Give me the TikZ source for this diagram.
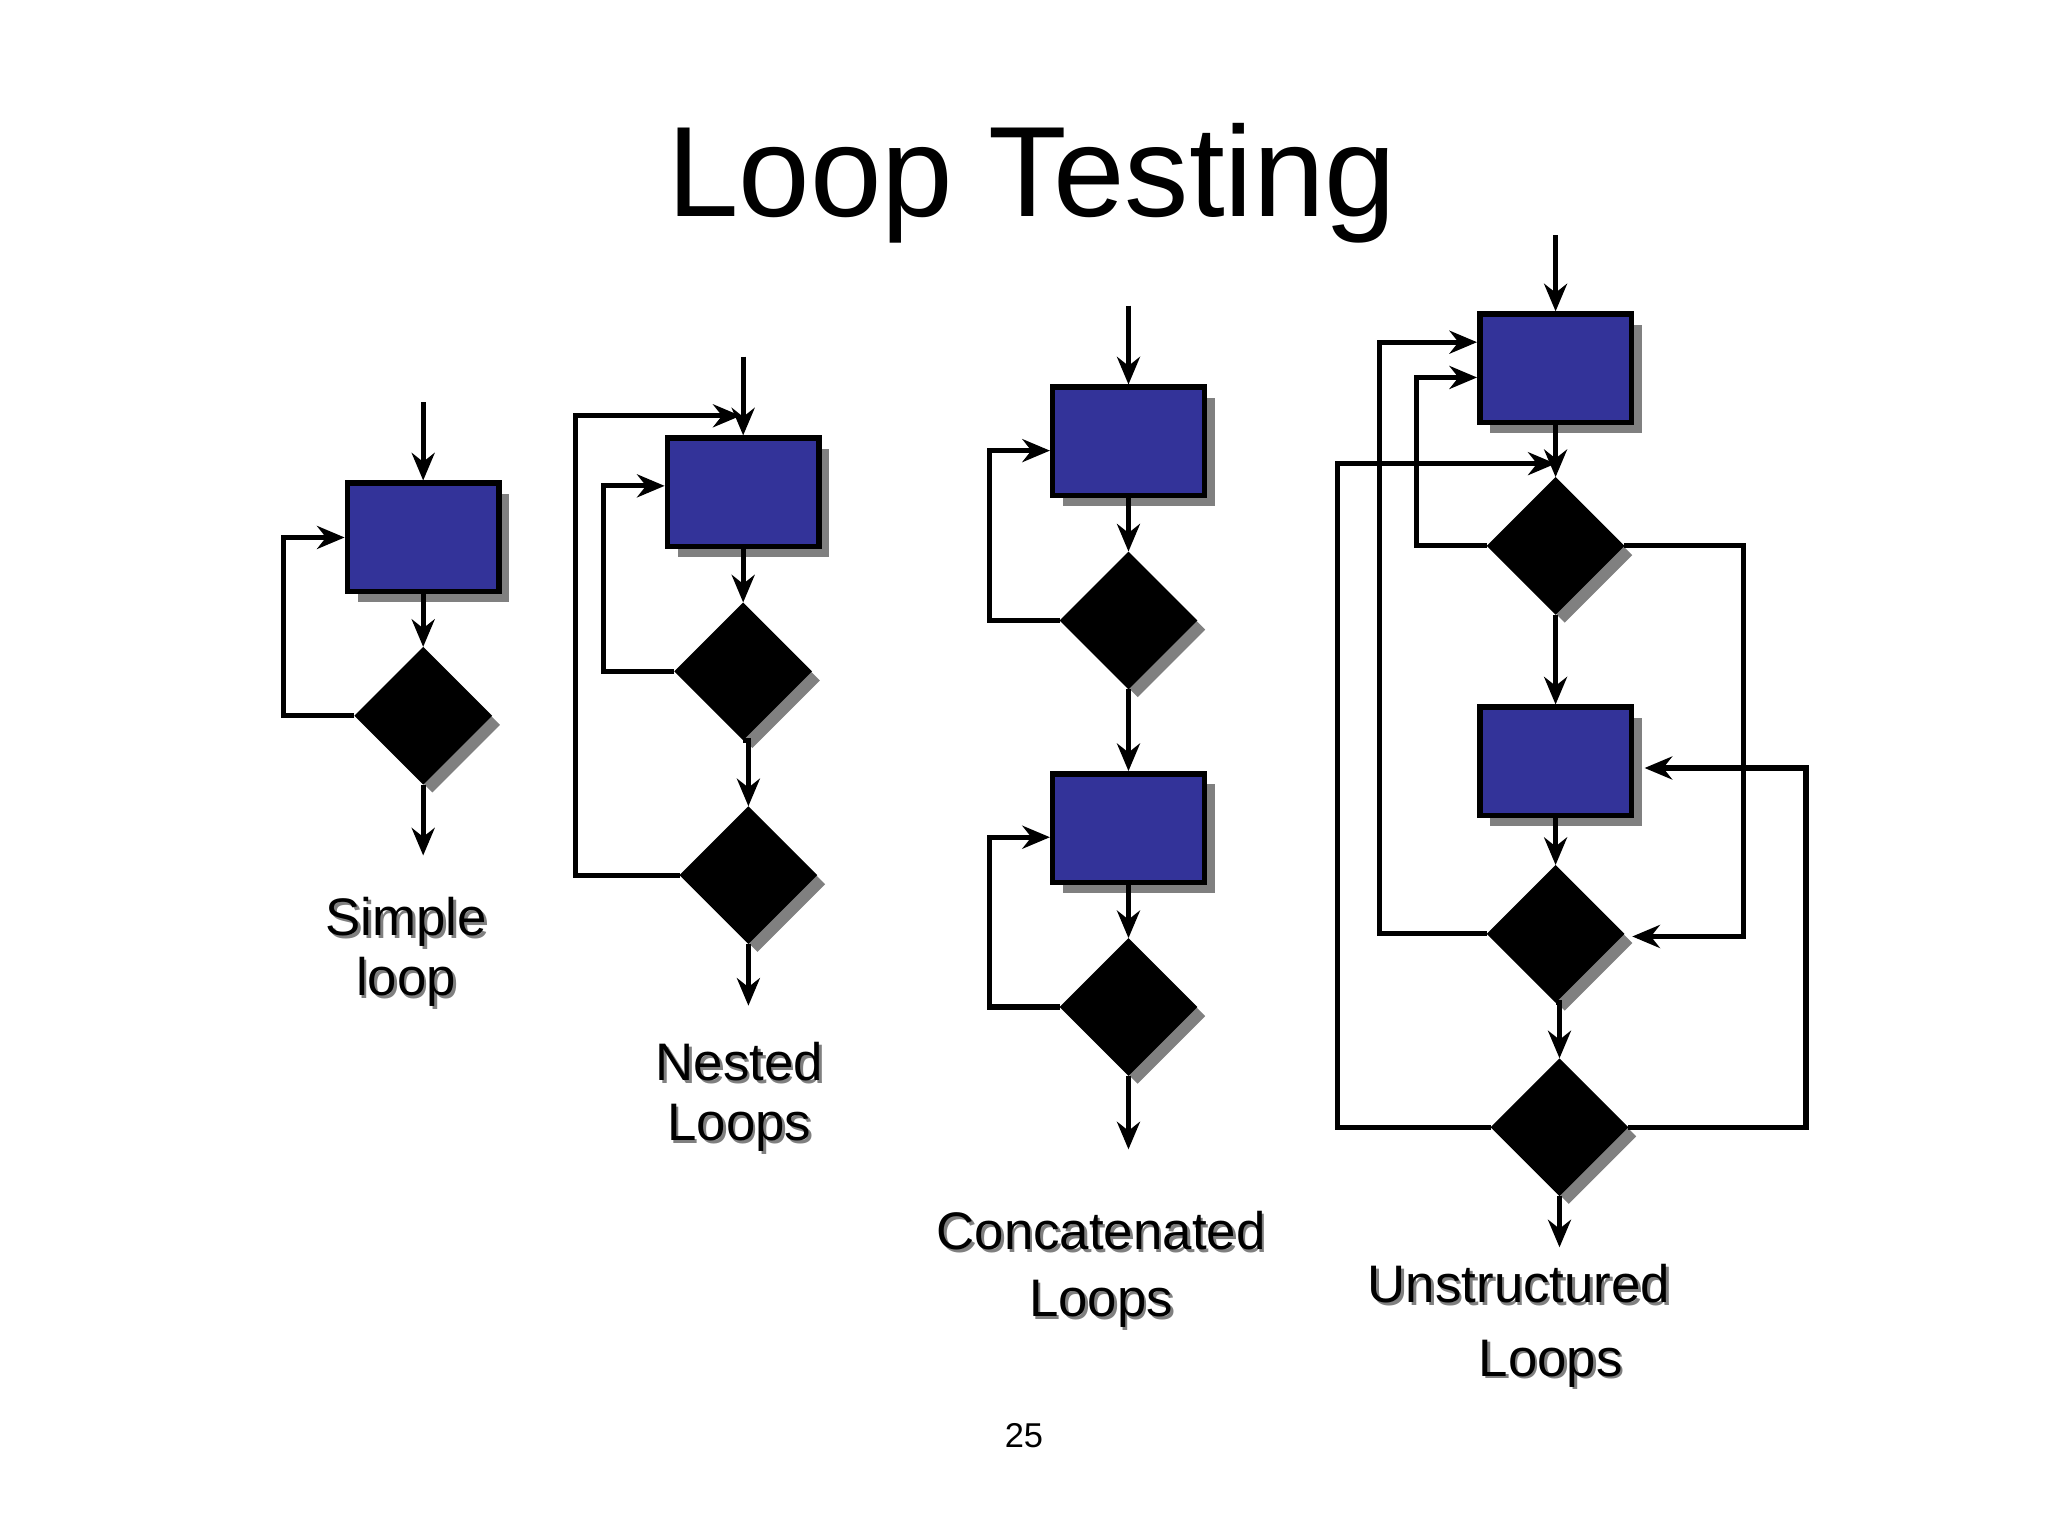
\documentclass[tikz,border=0pt]{standalone}
\usepackage{fontspec}
\setmainfont{Liberation Sans}
\usetikzlibrary{shapes.geometric,shadows,arrows.meta,calc}
\definecolor{boxblue}{RGB}{51,51,153}
\begin{document}
\begin{tikzpicture}[x=0.01cm,y=-0.01cm,
  box/.style={rectangle,draw=black,line width=1.2pt,fill=boxblue,minimum width=1.16cm,minimum height=0.83cm,inner sep=0,
    drop shadow={shadow xshift=0.08cm,shadow yshift=-0.08cm,fill=gray,opacity=1}},
  dia/.style={diamond,fill=black,draw=black,minimum width=1.04cm,minimum height=1.04cm,inner sep=0,aspect=1,
    drop shadow={shadow xshift=0.07cm,shadow yshift=-0.07cm,fill=gray,opacity=1}},
  arr/.style={line width=1.1pt,-{Stealth[length=6pt,width=5pt]}},
  lbl/.style={font=\fontsize{11.5}{13}\selectfont,align=center,inner sep=0},
  lsh/.style={lbl,text=gray}]
\useasboundingbox (0,0) rectangle (1568,1176);
\node[font=\fontsize{28}{32}\selectfont] (title) at (790,140) {Loop Testing};
\node[font=\fontsize{7.5}{9}\selectfont] (page) at (784,1099) {25};
% Simple
\node[box] (s1) at (324,411.5) {};
\node[dia] (s2) at (324,548) {};
\coordinate (s0) at (324,308); \coordinate (s3) at (324,655);
\draw[arr] (s0) -- (s1.north);
\draw[arr] (s1.south) -- (s2.north);
\draw[arr] (s2.south) -- (s3);
\draw[arr] (s2.west) -- ++(-54,0) |- (s1.west);
\node[lsh] (sl2) at (313,731) {Simple\\loop};
\node[lbl] (sl) at (311,729) {Simple\\loop};
% Nested
\node[box] (n1) at (569,377) {};
\node[dia] (n2) at (569,514) {};
\node[dia] (n3) at (573,670) {};
\coordinate (n0) at (569,273); \coordinate (n4) at (573,770);
\draw[arr] (n0) -- (n1.north);
\draw[arr] (n1.south) -- (n2.north);
\draw[arr] (n2.south) -- (n2.south -| n3.north) -- (n3.north);
\draw[arr] (n3.south) -- (n4);
\draw[arr] (n2.west) -- ++(-54,0) |- ([yshift=0.05cm]n1.west);
\draw[arr] (n3.west) -- ++(-80,0) |- ([xshift=-0.02cm,yshift=0.15cm]n1.north);
\node[lsh] (nl2) at (568,842) {Nested\\Loops};
\node[lbl] (nl) at (566,840) {Nested\\Loops};
% Concatenated
\node[box] (c1) at (864,338) {};
\node[dia] (c2) at (864,475) {};
\node[box] (c3) at (864,634) {};
\node[dia] (c4) at (864,771) {};
\coordinate (c0) at (864,234); \coordinate (c5) at (864,880);
\draw[arr] (c0) -- (c1.north);
\draw[arr] (c1.south) -- (c2.north);
\draw[arr] (c2.south) -- (c3.north);
\draw[arr] (c3.south) -- (c4.north);
\draw[arr] (c4.south) -- (c5);
\draw[arr] (c2.west) -- ++(-54,0) |- ([yshift=-0.07cm]c1.west);
\draw[arr] (c4.west) -- ++(-54,0) |- ([yshift=-0.07cm]c3.west);
\node[lsh,font=\fontsize{11.5}{14.5}\selectfont] (cl2) at (845,974) {Concatenated\\Loops};
\node[lbl,font=\fontsize{11.5}{14.5}\selectfont] (cl) at (843,972) {Concatenated\\Loops};
% Unstructured
\node[box] (u1) at (1191,282) {};
\node[dia] (u2) at (1191,418) {};
\node[box] (u3) at (1191,583) {};
\node[dia] (u4) at (1191,715) {};
\node[dia] (u5) at (1194,863) {};
\coordinate (u0) at (1191,180); \coordinate (u6) at (1194,955);
\coordinate (uj) at (1191,355);
\draw[arr] (u0) -- (u1.north);
\draw[arr] (u1.south) -- (u2.north);
\draw[arr] (u2.south) -- (u3.north);
\draw[arr] (u3.south) -- (u4.north);
\draw[arr] (u4.south) -- (u4.south -| u5.north) -- (u5.north);
\draw[arr] (u5.south) -- (u6);
\draw[arr] (u2.west) -- ++(-54,0) |- ([yshift=-0.07cm]u1.west);
\draw[arr] (u4.west) -- ++(-82,0) |- ([yshift=0.2cm]u1.west);
\draw[arr] (u5.west) -- ++(-117,0) |- (uj);
\draw[arr] (u2.east) -- ++(91,0) |- ([xshift=0.06cm,yshift=-0.02cm]u4.east);
\draw[arr] (u5.east) -- ++(136,0) |- ([xshift=0.08cm,yshift=-0.05cm]u3.east);
\node[lsh,font=\fontsize{11.5}{16}\selectfont] (ul2) at (1165,1017) {Unstructured\\\hspace*{1.2em}Loops};
\node[lbl,font=\fontsize{11.5}{16}\selectfont] (ul) at (1163,1015) {Unstructured\\\hspace*{1.2em}Loops};
\end{tikzpicture}
\end{document}
